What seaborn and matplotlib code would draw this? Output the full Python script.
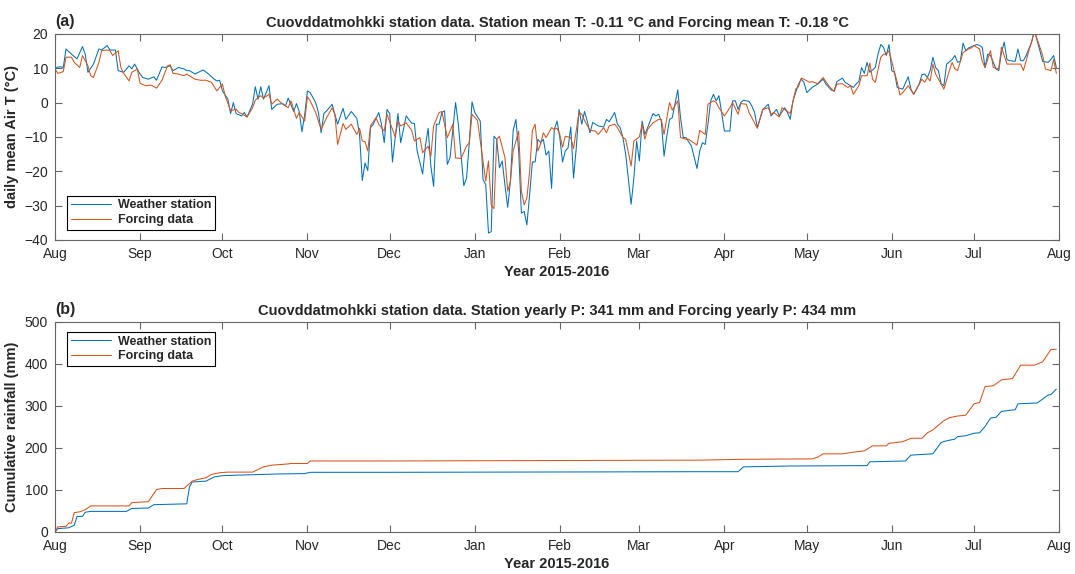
import matplotlib
matplotlib.use("Agg")
import matplotlib.dates as mdates
import matplotlib.pyplot as plt
import pandas as pd
import seaborn as sns

# days counted from 2015-08-01
station_t_days = [
    0, 2, 3, 4, 6, 8, 10, 11, 12, 14, 16, 17, 19, 20, 22, 23, 25, 27, 28, 29,
    31, 32, 34, 36, 37, 39, 40, 42, 43, 45, 47, 48, 49, 51, 54, 56, 58, 59, 60, 61,
    63, 64, 65, 66, 68, 69, 70, 72, 73, 74, 75, 76, 78, 79, 81, 83, 84, 85, 87, 88,
    89, 90, 91, 92, 93, 95, 96, 97, 98, 100, 101, 103, 105, 106, 108, 110, 111, 112, 113, 114,
    115, 116, 118, 119, 120, 121, 122, 123, 125, 126, 128, 130, 131, 132, 134, 135, 136, 137, 138, 139,
    140, 141, 142, 143, 144, 146, 147, 149, 150, 151, 152, 153, 155, 156, 157, 158, 159, 160, 161, 162,
    163, 164, 165, 166, 167, 168, 169, 170, 171, 172, 173, 174, 175, 176, 177, 178, 179, 180, 181, 182,
    183, 184, 185, 186, 187, 188, 189, 190, 191, 192, 193, 194, 195, 196, 198, 200, 201, 202, 204, 205,
    206, 207, 208, 210, 211, 212, 213, 214, 215, 216, 218, 219, 220, 221, 222, 223, 224, 225, 227, 228,
    229, 230, 232, 234, 235, 236, 237, 238, 239, 240, 241, 242, 243, 244, 246, 247, 248, 249, 250, 251,
    253, 254, 255, 256, 258, 260, 261, 263, 264, 266, 267, 268, 269, 271, 272, 273, 274, 276, 278, 280,
    281, 283, 284, 285, 287, 288, 291, 292, 293, 294, 295, 296, 297, 299, 300, 301, 302, 303, 304, 305,
    306, 307, 309, 311, 312, 313, 315, 316, 317, 318, 319, 320, 321, 322, 323, 324, 325, 327, 328, 329,
    330, 331, 332, 333, 335, 336, 337, 338, 339, 340, 341, 343, 344, 345, 346, 347, 348, 350, 351, 352,
    353, 354, 356, 357, 358, 359, 360, 362, 363, 364, 365,
]
station_t = [
    10.2, 10.4, 10.2, 15.6, 14.1, 12.7, 16.3, 14.1, 8.8, 11.2, 15.6, 15.3, 16.6, 15.3, 15.3, 9.3, 8.8, 10.7, 9.8, 11.2,
    8.3, 7.3, 6.8, 7.5, 6.5, 10.4, 10.2, 10.7, 9.3, 10.2, 9.8, 9.3, 9.3, 8.3, 9.5, 8.3, 6.8, 6.3, 6.5, 3.4,
    1.0, -3.2, 0.0, -3.2, -3.9, -2.9, -4.2, -0.5, 4.6, 1.0, 4.6, 1.0, 4.9, -2.0, -0.5, -0.3, -1.0, 1.3, -2.6, -0.3,
    -2.6, -8.5, -3.6, 3.4, 2.9, 0.0, -2.9, -8.8, -3.2, -1.5, -0.5, -6.3, -1.7, -4.9, -2.6, -4.6, -9.3, -22.7, -17.6, -19.8,
    -7.3, -6.3, -2.9, -6.3, -11.7, -2.0, -3.2, -17.3, -3.2, -11.7, -3.9, -6.0, -6.1, -14.1, -20.8, -12.7, -7.5, -18.5, -24.4, -6.3,
    -6.3, -2.9, -2.4, -18.0, -16.0, 0.0, -6.3, -24.2, -22.0, -11.7, 0.2, -2.9, -5.4, -22.4, -23.9, -38.0, -37.6, -9.8, -10.7, -19.0,
    -17.0, -24.0, -30.5, -22.9, -8.1, -4.9, -14.1, -32.2, -31.7, -35.6, -26.8, -17.3, -17.3, -10.7, -11.7, -10.7, -15.3, -14.1, -25.0, -7.8,
    -5.4, -10.2, -17.3, -14.1, -13.2, -7.1, -22.0, -13.2, -2.0, -6.3, -2.6, -5.4, -8.8, -5.8, -6.8, -7.1, -4.9, -5.6, -2.9, -6.3,
    -7.3, -10.2, -15.0, -29.6, -22.0, -11.2, -17.0, -5.4, -9.3, -7.3, -3.2, -3.9, -3.4, -5.4, -15.6, -9.8, -4.9, -4.4, 3.7, -4.4,
    -10.2, -10.2, -12.7, -19.2, -14.1, -11.7, -12.2, -6.3, 0.5, 2.4, 0.5, 2.0, -2.9, -8.3, -8.3, 0.5, 0.5, -2.0, 0.0, 0.7,
    0.3, -1.0, -2.9, -7.3, -2.0, -0.5, -3.9, -2.0, -3.9, -1.5, -2.9, -4.9, 0.5, 5.4, 6.8, 5.9, 2.9, 4.4, 5.4, 6.8,
    5.4, 3.6, 3.4, 6.1, 7.1, 5.9, 4.4, 5.4, 6.1, 10.2, 8.5, 11.7, 8.8, 10.2, 14.1, 16.9, 16.1, 13.7, 16.9, 9.3,
    8.8, 4.4, 3.9, 7.5, 3.9, 2.4, 5.4, 8.1, 8.3, 7.3, 9.3, 13.2, 10.2, 9.3, 5.5, 4.9, 11.2, 12.5, 13.7, 11.7,
    12.0, 17.3, 15.1, 15.9, 16.6, 16.9, 16.6, 16.1, 10.2, 14.1, 13.7, 9.8, 9.3, 14.6, 17.6, 12.5, 12.2, 12.0, 15.6, 12.2,
    12.2, 13.7, 17.6, 21.2, 18.0, 15.1, 12.0, 11.7, 12.5, 13.7, 10.2,
]

forcing_t_days = [
    0, 1, 3, 4, 6, 7, 9, 10, 12, 13, 14, 16, 17, 19, 20, 21, 23, 24, 25, 27,
    28, 30, 31, 33, 35, 37, 39, 41, 42, 43, 45, 47, 48, 50, 51, 53, 55, 57, 59, 61,
    62, 64, 66, 67, 68, 70, 72, 73, 75, 76, 78, 79, 81, 83, 85, 86, 88, 89, 91, 92,
    93, 95, 97, 99, 101, 102, 103, 105, 106, 108, 110, 111, 112, 113, 114, 115, 117, 118, 120, 121,
    124, 125, 126, 128, 130, 131, 133, 134, 136, 137, 138, 140, 141, 143, 145, 146, 148, 150, 151, 152,
    154, 156, 157, 158, 159, 160, 161, 162, 164, 165, 166, 167, 169, 170, 171, 172, 173, 174, 175, 176,
    177, 178, 179, 181, 182, 183, 184, 185, 186, 188, 189, 191, 192, 193, 195, 197, 198, 200, 201, 202,
    204, 205, 207, 208, 210, 211, 213, 214, 215, 216, 218, 220, 221, 222, 224, 225, 227, 228, 230, 231,
    234, 235, 237, 238, 240, 241, 242, 244, 246, 247, 249, 250, 252, 253, 256, 258, 260, 261, 262, 264,
    265, 267, 268, 270, 271, 272, 273, 275, 276, 278, 280, 282, 284, 285, 287, 289, 290, 291, 293, 294,
    296, 297, 298, 299, 301, 302, 303, 304, 306, 307, 308, 309, 311, 313, 314, 316, 317, 318, 319, 320,
    321, 323, 324, 326, 327, 328, 329, 331, 333, 334, 335, 337, 338, 339, 341, 342, 344, 345, 347, 349,
    352, 353, 355, 357, 358, 360, 361, 363, 364, 365,
]
forcing_t = [
    9.8, 8.5, 9.0, 13.2, 13.2, 11.7, 10.2, 13.7, 10.7, 7.8, 7.3, 11.7, 15.1, 15.3, 15.1, 13.7, 15.1, 10.2, 8.5, 6.3,
    8.8, 9.8, 5.6, 4.9, 5.1, 4.2, 6.5, 10.7, 11.0, 8.5, 8.3, 7.8, 8.3, 7.3, 6.8, 6.5, 6.5, 5.9, 3.4, 5.4,
    2.0, -2.4, -1.9, -2.9, -3.2, -4.2, -1.5, 0.7, 2.0, 1.3, 2.4, -0.5, 1.0, -0.5, -1.5, 0.5, -4.6, -2.9, -5.4, 1.7,
    0.5, -2.9, -7.8, -4.4, -1.5, -3.4, -12.2, -6.1, -7.8, -6.3, -9.3, -7.5, -11.2, -11.4, -14.1, -6.8, -4.4, -6.3, -8.3, -3.4,
    -10.0, -5.4, -6.8, -5.9, -8.1, -11.2, -10.2, -14.6, -12.7, -15.6, -6.8, -2.9, -2.6, -10.2, -6.3, -16.1, -16.3, -12.7, -11.7, -3.4,
    -5.2, -17.0, -22.9, -17.0, -29.8, -30.9, -10.7, -9.8, -16.0, -25.8, -22.9, -14.1, -8.3, -25.8, -29.8, -27.8, -20.0, -8.1, -6.3, -14.1,
    -12.0, -8.8, -10.2, -7.3, -7.8, -7.5, -9.3, -13.0, -9.8, -10.2, -13.4, -2.9, -3.4, -5.2, -8.1, -8.3, -9.3, -7.3, -8.8, -6.8,
    -6.3, -7.3, -10.2, -10.7, -18.5, -11.2, -10.0, -6.3, -10.7, -7.8, -5.9, -4.9, -4.9, -9.3, 0.0, -2.2, 0.5, -10.2, -10.7, -10.7,
    -12.4, -8.1, -9.3, -0.5, 0.5, 0.0, -1.5, -3.9, -1.5, 0.0, -3.4, -0.3, -0.5, -2.9, -7.5, -2.0, -1.5, -3.4, -2.9, -4.2,
    -1.5, -2.6, -3.2, 3.9, 4.6, 7.1, 6.8, 5.9, 6.1, 5.5, 7.3, 4.9, 3.2, 5.4, 5.5, 4.4, 4.9, 2.4, 4.9, 7.8,
    7.8, 11.5, 6.8, 5.9, 13.2, 14.1, 14.0, 15.1, 8.8, 5.9, 2.2, 2.9, 4.9, 2.4, 3.9, 6.8, 5.9, 7.3, 6.3, 11.2,
    8.3, 5.4, 3.9, 9.3, 11.7, 9.8, 9.3, 14.6, 15.6, 15.9, 16.6, 15.6, 12.0, 10.2, 15.1, 10.2, 9.8, 16.1, 11.2, 11.2,
    11.2, 9.3, 15.1, 20.5, 18.5, 13.7, 9.8, 9.3, 12.5, 8.5,
]

station_p_days = [
    0, 1, 5, 7, 8, 10, 11, 13, 26, 28, 34, 36, 48, 49, 50, 55, 58, 61, 65, 81,
    91, 93, 122, 160, 200, 235, 249, 251, 268, 296, 297, 310, 312, 320, 321, 323, 325, 328, 329, 332,
    335, 337, 339, 341, 343, 345, 350, 351, 358, 362, 363, 365,
]
station_p = [
    0, 8, 10, 16, 37, 37, 47, 49, 49, 56, 57, 65, 67, 107, 119, 121, 131, 134, 135, 138,
    139, 142, 142, 142.5, 143, 143.5, 143.5, 155, 157, 158, 167, 169, 183, 186, 195, 213, 217, 221, 227, 229,
    235, 236, 251, 271, 273, 287, 291, 305, 307, 326, 327, 340,
]

forcing_p_days = [
    0, 1, 4, 5, 6, 7, 9, 11, 13, 27, 28, 34, 37, 39, 47, 50, 52, 55, 57, 60,
    63, 72, 76, 79, 85, 86, 92, 93, 122, 180, 235, 251, 276, 278, 280, 287, 291, 295, 298, 303,
    304, 309, 312, 316, 318, 320, 324, 326, 329, 332, 335, 337, 339, 342, 345, 349, 352, 357, 360, 363,
    365,
]
forcing_p = [
    0, 12, 13.5, 21, 21, 46, 48, 53, 62, 62, 70, 72, 101, 103.5, 103.5, 121, 125, 129, 137, 141,
    142.5, 142.5, 155, 159, 162, 163, 163, 169, 169, 170, 171, 173, 174, 178, 186, 186, 190, 193, 205, 205,
    211, 215, 223, 223, 236, 243, 265, 272, 276, 278, 305, 308, 346, 348, 362, 365, 397, 397, 405, 434,
    435,
]

series_names = ["Weather station", "Forcing data"]
station_mean_t, forcing_mean_t = -0.11, -0.18
station_yearly_p, forcing_yearly_p = 341, 434

START = pd.Timestamp("2015-08-01")
END = pd.Timestamp("2016-08-01")
BLUE = "#0072BD"
ORANGE = "#D95319"
GREY = "#262626"


def to_frame(days, values):
    assert len(days) == len(values), (len(days), len(values))
    return pd.DataFrame({"date": START + pd.to_timedelta(days, unit="D"), "value": values})


def style_axis(ax):
    ax.set_xlim(START, END)
    ax.xaxis.set_major_locator(mdates.MonthLocator())
    ax.xaxis.set_major_formatter(mdates.DateFormatter("%b"))
    ax.tick_params(direction="in", top=True, right=True, length=5, width=0.8,
                   colors="#666666", labelcolor=GREY, labelsize=10, pad=5)
    for sp in ax.spines.values():
        sp.set_visible(True)
        sp.set_color("#666666")
        sp.set_linewidth(0.8)
    ax.set_xlabel("Year 2015-2016", fontweight="bold", fontsize=10.5, color=GREY, labelpad=3)


def add_legend(ax, loc, anchor):
    leg = ax.legend(loc=loc, bbox_to_anchor=anchor, fancybox=False, framealpha=1,
                    edgecolor="black", prop={"weight": "bold", "size": 9}, handlelength=3.2,
                    borderpad=0.3, labelspacing=0.2, handletextpad=0.6, borderaxespad=0)
    leg.get_frame().set_linewidth(0.8)


sns.set_style("ticks")
plt.rcParams["font.family"] = ["Liberation Sans", "DejaVu Sans"]

fig = plt.figure(figsize=(10.75, 5.74), dpi=100)
ax1 = fig.add_axes([0.0512, 0.582, 0.934, 0.359])
ax2 = fig.add_axes([0.0512, 0.0732, 0.934, 0.366])

# (a) temperature
sns.lineplot(data=to_frame(station_t_days, station_t), x="date", y="value", ax=ax1,
             color=BLUE, linewidth=0.75, label=series_names[0])
sns.lineplot(data=to_frame(forcing_t_days, forcing_t), x="date", y="value", ax=ax1,
             color=ORANGE, linewidth=0.75, label=series_names[1])
style_axis(ax1)
ax1.set_ylim(-40, 20)
ax1.set_yticks(range(-40, 21, 10))
ax1.set_ylabel("daily mean Air T (\u00b0C)", fontweight="bold", fontsize=10.5, color=GREY, labelpad=4)
ax1.set_title(f"Cuovddatmohkki station data. Station mean T: {station_mean_t} \u00b0C and "
              f"Forcing mean T: {forcing_mean_t} \u00b0C", fontweight="bold", fontsize=10.5, pad=5)
ax1.text(0.0, 1.025, "(a)", transform=ax1.transAxes, fontweight="bold", fontsize=11.5,
         ha="left", va="bottom")
add_legend(ax1, "lower left", (0.012, 0.05))

# (b) cumulative rainfall
sns.lineplot(data=to_frame(station_p_days, station_p), x="date", y="value", ax=ax2,
             color=BLUE, linewidth=0.75, label=series_names[0])
sns.lineplot(data=to_frame(forcing_p_days, forcing_p), x="date", y="value", ax=ax2,
             color=ORANGE, linewidth=0.75, label=series_names[1])
style_axis(ax2)
ax2.set_ylim(0, 500)
ax2.set_yticks(range(0, 501, 100))
ax2.set_ylabel("Cumulative rainfall (mm)", fontweight="bold", fontsize=10.5, color=GREY, labelpad=4)
ax2.set_title(f"Cuovddatmohkki station data. Station yearly P: {station_yearly_p} mm and "
              f"Forcing yearly P: {forcing_yearly_p} mm", fontweight="bold", fontsize=10.5, pad=5)
ax2.text(0.0, 1.025, "(b)", transform=ax2.transAxes, fontweight="bold", fontsize=11.5,
         ha="left", va="bottom")
add_legend(ax2, "upper left", (0.012, 0.952))

fig.savefig("out.png", dpi=100)
